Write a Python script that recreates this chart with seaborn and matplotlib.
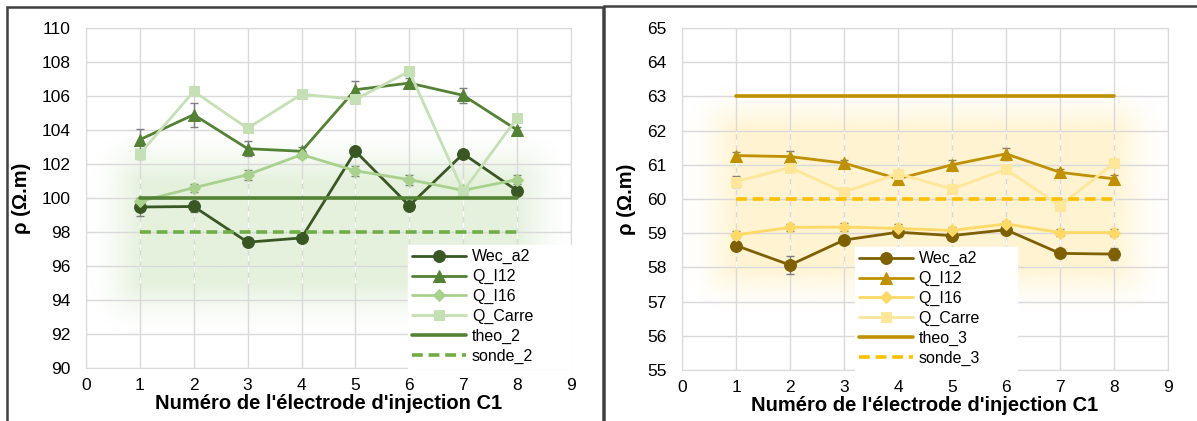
import numpy as np
import pandas as pd
import seaborn as sns
import matplotlib.pyplot as plt
from matplotlib.patches import Rectangle
from matplotlib.colors import to_rgb

electrodes = [1, 2, 3, 4, 5, 6, 7, 8]

# left chart (green)
wec_a2_2 = [99.47, 99.5, 97.4, 97.65, 102.75, 99.55, 102.6, 100.43]
q_i12_2 = [103.43, 104.9, 102.9, 102.75, 106.37, 106.76, 106.04, 104.0]
q_i16_2 = [99.8, 100.6, 101.37, 102.55, 101.6, 101.08, 100.45, 101.08]
q_carre_2 = [102.6, 106.27, 104.1, 106.1, 105.8, 107.45, 100.4, 104.7]
theo_2 = [100] * 8
sonde_2 = [98] * 8
err_wec_2 = [0.5, 0.3, 0.2, 0.2, 0.2, 0.2, 0.2, 0.2]
err_i12_2 = [0.6, 0.7, 0.45, 0.25, 0.5, 0.3, 0.45, 0.2]
err_i16_2 = [0.2, 0.25, 0.3, 0.2, 0.3, 0.3, 0.2, 0.25]
err_carre_2 = [0.3, 0.2, 0.2, 0.2, 0.2, 0.2, 0.2, 0.2]

# right chart (gold)
wec_a2_3 = [58.64, 58.07, 58.8, 59.03, 58.93, 59.1, 58.41, 58.39]
q_i12_3 = [61.27, 61.24, 61.05, 60.59, 61.0, 61.32, 60.78, 60.59]
q_i16_3 = [58.95, 59.17, 59.18, 59.14, 59.08, 59.27, 59.02, 59.02]
q_carre_3 = [60.51, 60.92, 60.2, 60.74, 60.29, 60.87, 59.8, 61.05]
theo_3 = [63] * 8
sonde_3 = [60] * 8
err_wec_3 = [0.1, 0.27, 0.1, 0.1, 0.1, 0.1, 0.1, 0.17]
err_i12_3 = [0.1, 0.15, 0.1, 0.1, 0.15, 0.17, 0.1, 0.1]
err_i16_3 = [0.1, 0.1, 0.12, 0.12, 0.1, 0.1, 0.1, 0.1]
err_carre_3 = [0.15, 0.1, 0.1, 0.1, 0.1, 0.1, 0.1, 0.1]

sns.set_style("white")
plt.rcParams['font.family'] = ['Liberation Sans', 'DejaVu Sans']
plt.rcParams['text.color'] = 'black'
plt.rcParams['axes.labelcolor'] = 'black'
plt.rcParams['xtick.color'] = 'black'
plt.rcParams['ytick.color'] = 'black'

fig = plt.figure(figsize=(11.97, 4.21), dpi=100)
ax1 = fig.add_axes([0.0718, 0.1259, 0.4052, 0.8076])
ax2 = fig.add_axes([0.5698, 0.1211, 0.406, 0.8124])

# panel frames
fig.patches.append(Rectangle((7 / 1197, -0.1), 596 / 1197, 1.1 - 7 / 421, transform=fig.transFigure,
                             fill=False, edgecolor='#404040', linewidth=1.8))
fig.patches.append(Rectangle((604 / 1197, -0.1), 0.6, 1.1 - 6 / 421, transform=fig.transFigure,
                             fill=False, edgecolor='#404040', linewidth=1.8))


def glow(ax, ylim, core, sx, sy, color, amax):
    xs = np.linspace(0, 9, 360)
    ys = np.linspace(ylim[0], ylim[1], 300)
    X, Y = np.meshgrid(xs, ys)
    dx = np.maximum(np.maximum(core[0] - X, X - core[1]), 0) / sx
    dy = np.maximum(np.maximum(core[2] - Y, Y - core[3]), 0) / sy
    d = np.sqrt(dx ** 2 + dy ** 2)
    a = amax * np.clip(1 - d, 0, 1) ** 1.6
    img = np.zeros(X.shape + (4,))
    img[..., :3] = to_rgb(color)
    img[..., 3] = a
    ax.imshow(img, extent=(0, 9, ylim[0], ylim[1]), origin='lower', aspect='auto',
              interpolation='bilinear', zorder=0)


def panel(ax, ylim, series, errs, theo, sonde, colors, names, core, sx, sy, gcolor, legbox, white_rng):
    glow(ax, ylim, core, sx, sy, gcolor, 0.45)
    for xv in electrodes:
        ax.plot([xv, xv], white_rng, color='white', linestyle=(0, (4, 4)), linewidth=1.0, zorder=1)
    markers = ['o', '^', 'D', 's']
    msizes = [8.5, 8.5, 6.5, 7.5]
    for vals, err, col, mk, ms, nm in zip(series, errs, colors[:4], markers, msizes, names[:4]):
        ax.errorbar(electrodes, vals, yerr=err, fmt='none', ecolor='#7f7f7f',
                    elinewidth=1, capsize=3, capthick=1, zorder=2)
        sns.lineplot(x=electrodes, y=vals, ax=ax, color=col, marker=mk, markersize=ms,
                     markeredgecolor=col, markerfacecolor=col, linewidth=2, label=nm, zorder=3)
    sns.lineplot(x=electrodes, y=theo, ax=ax, color=colors[4], linewidth=2.6, label=names[4], zorder=3)
    sns.lineplot(x=electrodes, y=sonde, ax=ax, color=colors[5], linewidth=2.6,
                 linestyle=(0, (3, 1.6)), label=names[5], zorder=3)
    ax.set_xlim(0, 9)
    ax.set_ylim(*ylim)
    ax.set_xticks(range(0, 10))
    ax.grid(True, color='#d9d9d9', linewidth=1)
    ax.set_axisbelow(True)
    for s in ax.spines.values():
        s.set_color('#d9d9d9')
    ax.tick_params(axis='y', labelsize=12.5, length=0, pad=11)
    ax.tick_params(axis='x', labelsize=12.5, length=0, pad=7)
    ax.set_xlabel("Numéro de l'électrode d'injection C1", fontsize=14.5, fontweight='bold', labelpad=1)
    ax.set_ylabel('ρ (Ω.m)', fontsize=14.5, fontweight='bold', labelpad=8)
    leg = ax.legend(loc='lower left', bbox_to_anchor=legbox, mode='expand', fontsize=11.5,
                    frameon=True, fancybox=False, framealpha=1, edgecolor='white', handlelength=3.4,
                    labelspacing=0.3, borderpad=0.25, handletextpad=0.35, borderaxespad=0)
    leg.set_zorder(5)


panel(ax1, (90, 110), [wec_a2_2, q_i12_2, q_i16_2, q_carre_2],
      [err_wec_2, err_i12_2, err_i16_2, err_carre_2], theo_2, sonde_2,
      ['#385723', '#548235', '#a9d18e', '#c5e0b4', '#548235', '#70ad47'],
      ['Wec_a2', 'Q_I12', 'Q_I16', 'Q_Carre', 'theo_2', 'sonde_2'],
      (1, 8, 95, 101), 1.0, 3.2, '#c5e0b4', (0.664, 0.0, 0.336, 0.36), (95, 101.1))
ax1.set_yticks(range(90, 111, 2))

panel(ax2, (55, 65), [wec_a2_3, q_i12_3, q_i16_3, q_carre_3],
      [err_wec_3, err_i12_3, err_i16_3, err_carre_3], theo_3, sonde_3,
      ['#7f6000', '#bf9000', '#ffd966', '#ffe699', '#bf9000', '#ffc000'],
      ['Wec_a2', 'Q_I12', 'Q_I16', 'Q_Carre', 'theo_3', 'sonde_3'],
      (1, 8, 58, 62), 1.0, 1.4, '#ffe699', (0.355, 0.0, 0.335, 0.345), (58, 62))
ax2.set_yticks(range(55, 66, 1))

fig.savefig('out.png', dpi=100)
